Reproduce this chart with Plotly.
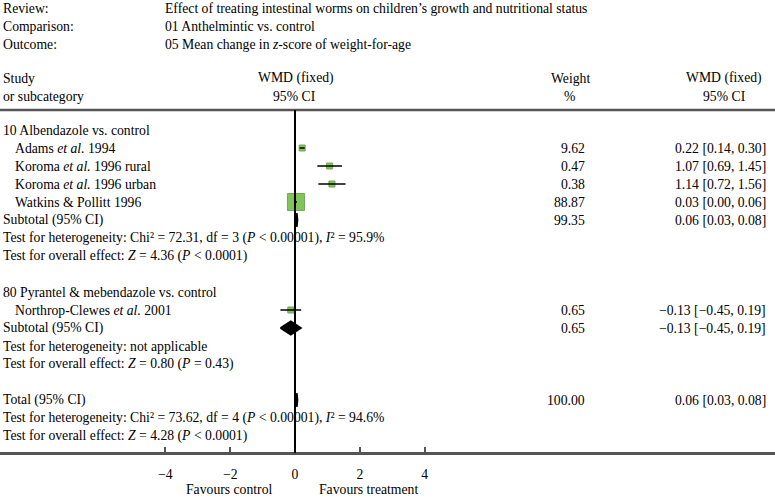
import plotly.graph_objects as go

# ---------------- data ----------------
study_names = ["Adams <i>et al.</i> 1994", "Koroma <i>et al.</i> 1996 rural",
               "Koroma <i>et al.</i> 1996 urban", "Watkins &amp; Pollitt 1996",
               "Northrop-Clewes <i>et al.</i> 2001"]
study_rows = [1, 2, 3, 4, 10]
study_est = [0.22, 1.07, 1.14, 0.03, -0.13]
study_lo = [0.14, 0.69, 0.72, 0.00, -0.45]
study_hi = [0.30, 1.45, 1.56, 0.06, 0.19]
study_weight = [9.62, 0.47, 0.38, 88.87, 0.65]

pooled_names = ["Subtotal (95% CI)", "Subtotal (95% CI)", "Total (95% CI)"]
pooled_rows = [5, 11, 15]
pooled_est = [0.06, -0.13, 0.06]
pooled_lo = [0.03, -0.45, 0.03]
pooled_hi = [0.08, 0.19, 0.08]
pooled_weight = [99.35, 0.65, 100.00]

group_titles = ["10 Albendazole vs. control", "80 Pyrantel &amp; mebendazole vs. control"]
group_rows = [0, 9]

test_texts = [
    "Test for heterogeneity: Chi² = 72.31, df = 3 (<i>P</i> &lt; 0.00001), <i>I</i>² = 95.9%",
    "Test for overall effect: <i>Z</i> = 4.36 (<i>P</i> &lt; 0.0001)",
    "Test for heterogeneity: not applicable",
    "Test for overall effect: <i>Z</i> = 0.80 (<i>P</i> = 0.43)",
    "Test for heterogeneity: Chi² = 73.62, df = 4 (<i>P</i> &lt; 0.00001), <i>I</i>² = 94.6%",
    "Test for overall effect: <i>Z</i> = 4.28 (<i>P</i> &lt; 0.0001)",
]
test_rows = [6, 7, 12, 13, 16, 17]

header_labels = ["Review:", "Comparison:", "Outcome:"]
header_values = ["Effect of treating intestinal worms on children’s growth and nutritional status",
                 "01 Anthelmintic vs. control",
                 "05 Mean change in <i>z</i>-score of weight-for-age"]

tick_vals = [-4, -2, 0, 2, 4]
tick_text = ["−4", "−2", "0", "2", "4"]

# ---------------- layout constants ----------------
W, H = 775, 498
ROW0_PX, PITCH = 130, 18          # pixel y of row 0, row spacing
ZERO_PX, UNIT_PX = 295, 32.4      # pixel x of 0, pixels per unit
AXIS_PX = 453                     # pixel y of bottom axis line
TOP_LINE_PX = 110

def row_of(px):
    return (px - ROW0_PX) / PITCH

def xfrac(px):
    return px / W

FONT = dict(family="Liberation Serif, Times New Roman, serif", size=13.7, color="black")
GREEN = "rgb(78,170,22)"
GREEN_EDGE = "rgb(55,135,10)"

fig = go.Figure()

# squares for studies
sizes = [max(6, 17 * (w / max(study_weight)) ** 0.5) for w in study_weight]
fig.add_trace(go.Scatter(x=study_est, y=study_rows, mode="markers",
                         marker=dict(symbol="square", size=sizes, color=GREEN,
                                     line=dict(color=GREEN_EDGE, width=1)),
                         hoverinfo="skip", showlegend=False))
# CI lines
ci_x, ci_y = [], []
for lo, hi, r in zip(study_lo, study_hi, study_rows):
    ci_x += [lo, hi, None]
    ci_y += [r, r, None]
fig.add_trace(go.Scatter(x=ci_x, y=ci_y, mode="lines", line=dict(color="black", width=1.5),
                         hoverinfo="skip", showlegend=False))

# diamonds for pooled estimates
hh = 0.38
for est, lo, hi, r in zip(pooled_est, pooled_lo, pooled_hi, pooled_rows):
    fig.add_trace(go.Scatter(x=[lo, est, hi, est, lo], y=[r, r - hh, r, r + hh, r],
                             mode="lines", fill="toself", fillcolor="black",
                             line=dict(color="black", width=1.5),
                             hoverinfo="skip", showlegend=False))

annotations = []

def txt(x_px, row, text, anchor="left"):
    annotations.append(dict(x=xfrac(x_px), xref="paper", y=row, yref="y", text=text,
                            showarrow=False, xanchor=anchor, yanchor="middle", font=FONT))

# header block
for i, (lab, val) in enumerate(zip(header_labels, header_values)):
    txt(1, row_of(8 + 18 * i), lab)
    txt(163, row_of(8 + 18 * i), val)

txt(1, row_of(78), "Study")
txt(1, row_of(96), "or subcategory")
txt(296, row_of(78), "WMD (fixed)", "center")
txt(294, row_of(96), "95% CI", "center")
txt(570, row_of(78), "Weight", "center")
txt(569, row_of(96), "%", "center")
txt(724, row_of(78), "WMD (fixed)", "center")
txt(724, row_of(96), "95% CI", "center")

for t, r in zip(group_titles, group_rows):
    txt(1, r, t)
for n, r, w, e, lo, hi in zip(study_names, study_rows, study_weight, study_est, study_lo, study_hi):
    txt(13, r, n)
    txt(587, r, f"{w:.2f}", "right")
    txt(768, r, f"{e:.2f} [{lo:.2f}, {hi:.2f}]".replace("-", "−"), "right")
for n, r, w, e, lo, hi in zip(pooled_names, pooled_rows, pooled_weight, pooled_est, pooled_lo, pooled_hi):
    txt(1, r, n)
    txt(587, r, f"{w:.2f}", "right")
    txt(768, r, f"{e:.2f} [{lo:.2f}, {hi:.2f}]".replace("-", "−"), "right")
for t, r in zip(test_texts, test_rows):
    txt(1, r, t)

txt(274, row_of(489), "Favours control", "right")
txt(317, row_of(489), "Favours treatment", "left")

shapes = [
    dict(type="line", xref="paper", yref="y", x0=0, x1=1,
         y0=row_of(TOP_LINE_PX), y1=row_of(TOP_LINE_PX), line=dict(color="#555", width=2.5)),
    dict(type="line", xref="x", yref="y", x0=0, x1=0,
         y0=row_of(TOP_LINE_PX), y1=row_of(AXIS_PX), line=dict(color="black", width=2)),
]

fig.update_layout(
    width=W, height=H, margin=dict(l=0, r=0, t=0, b=0),
    paper_bgcolor="white", plot_bgcolor="white",
    annotations=annotations, shapes=shapes, showlegend=False,
    xaxis=dict(range=[-ZERO_PX / UNIT_PX, (W - ZERO_PX) / UNIT_PX],
               anchor="free", position=(H - AXIS_PX) / H,
               tickvals=tick_vals, ticktext=tick_text, ticks="inside", ticklen=5,
               tickwidth=1.5, tickcolor="#555", showline=True, linecolor="#555", linewidth=2.5,
               showgrid=False, zeroline=False, tickfont=FONT, ticklabelstandoff=8,
               fixedrange=True),
    yaxis=dict(range=[row_of(H), row_of(0)], visible=False, showgrid=False,
               zeroline=False, fixedrange=True),
)

fig.write_html("out.html", config={"displayModeBar": False},
               post_script="document.body.style.margin='0';document.body.style.overflow='hidden';")
